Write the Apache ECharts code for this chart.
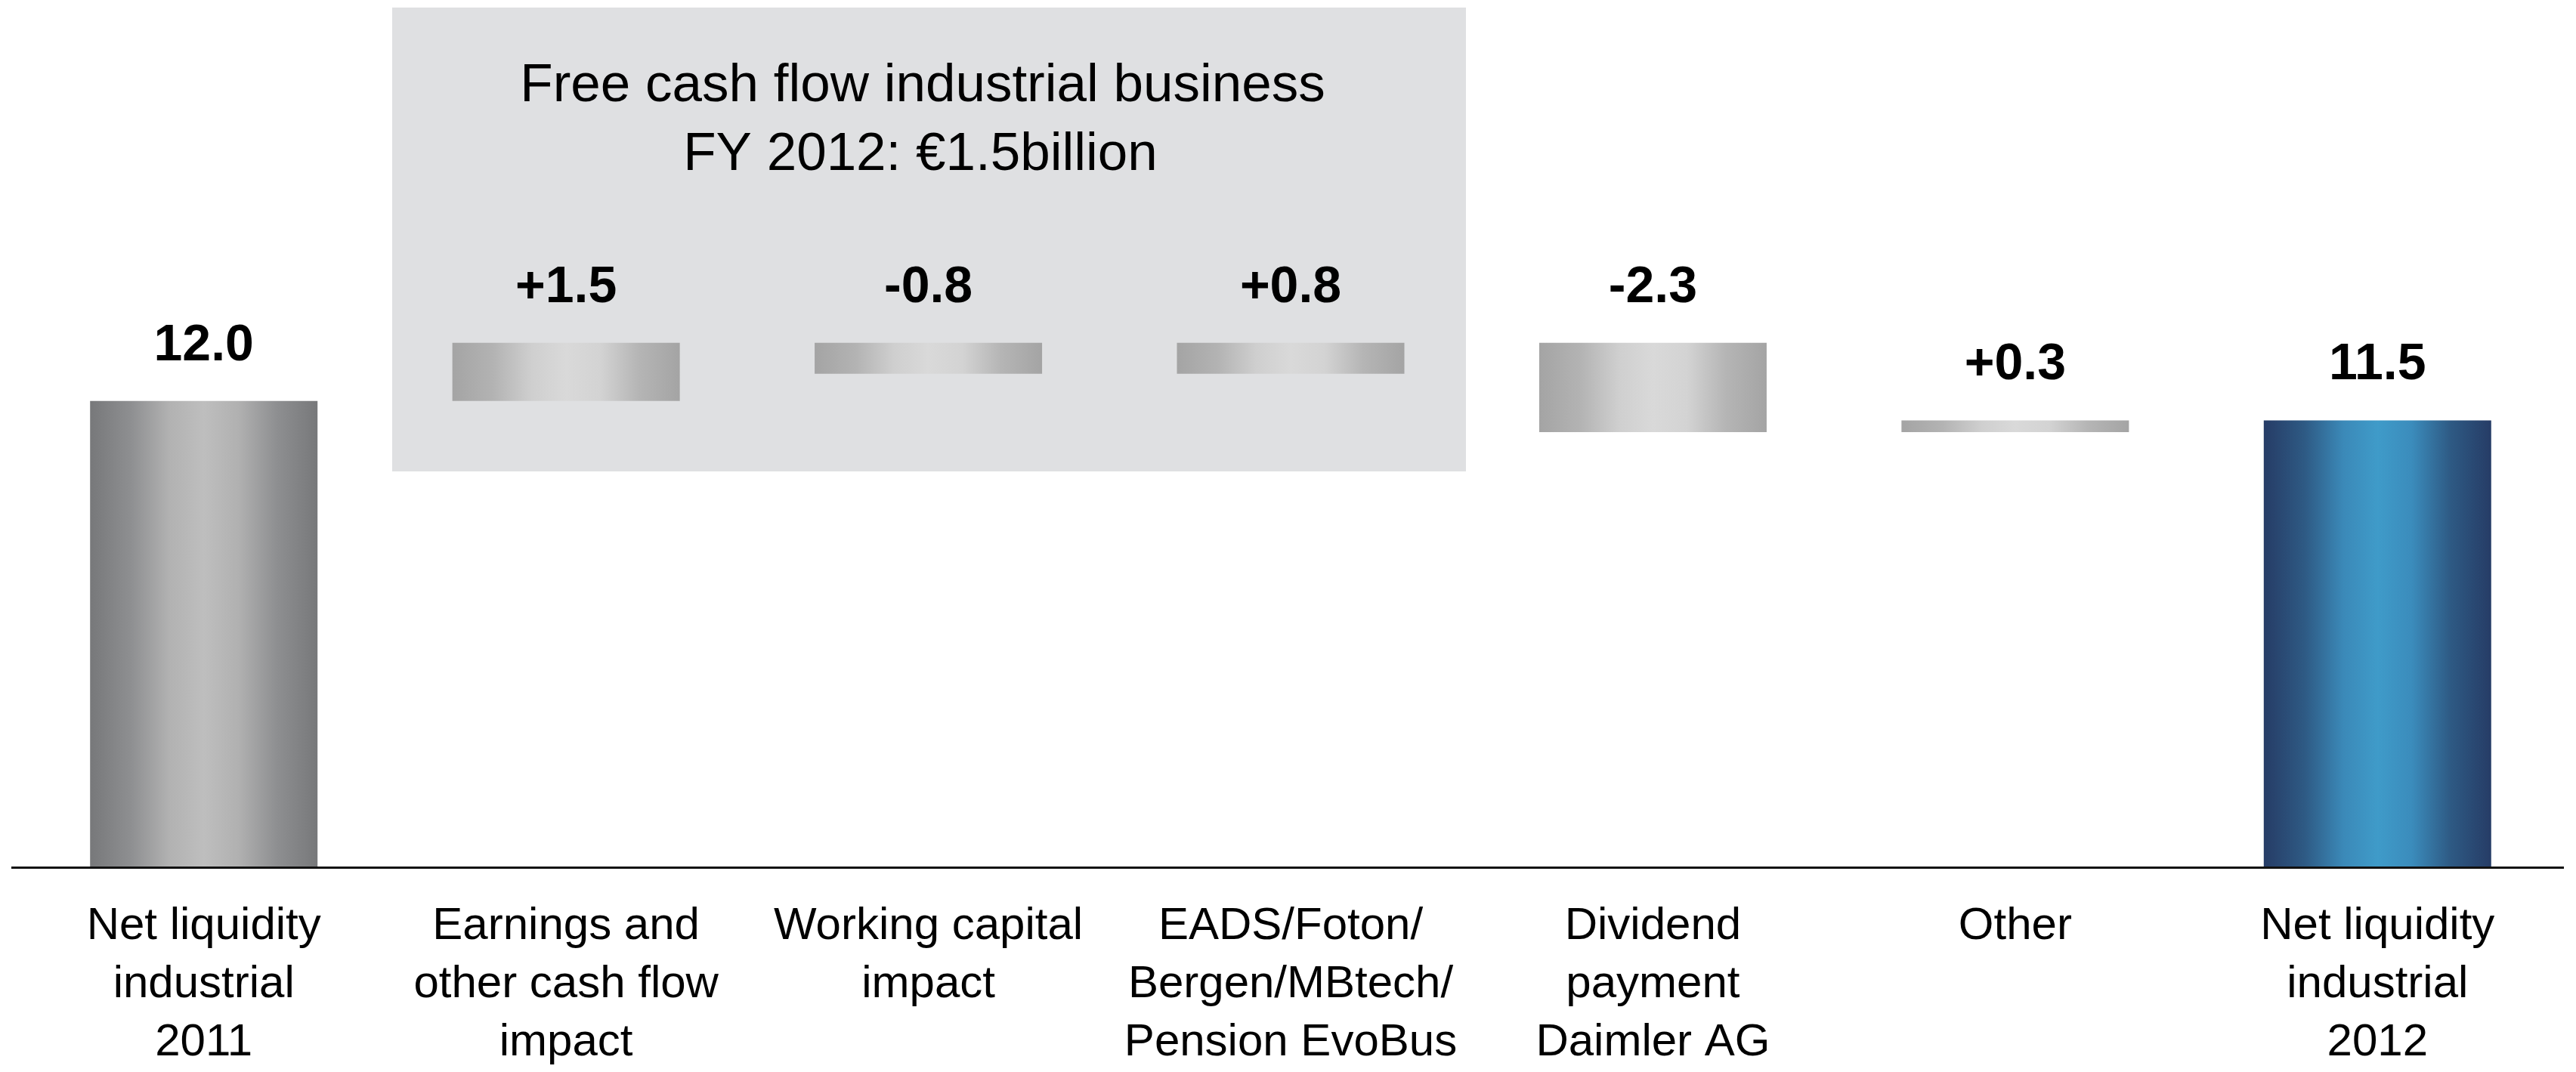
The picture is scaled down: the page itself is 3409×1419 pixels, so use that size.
<!DOCTYPE html>
<html>
<head>
<meta charset="utf-8">
<title>Net liquidity industrial business 2012</title>
<script src="https://cdn.jsdelivr.net/npm/echarts@6/dist/echarts.min.js"></script>
<style>
  html, body { margin: 0; padding: 0; background: #ffffff; }
  #chart { width: 3409px; height: 1419px; }
</style>
</head>
<body>
<div id="chart"></div>
<script>
// Net liquidity bridge, in billions of euros
const categories = [
  'Net liquidity\nindustrial\n2011',
  'Earnings and\nother cash flow\nimpact',
  'Working capital\nimpact',
  'EADS/Foton/\nBergen/MBtech/\nPension EvoBus',
  'Dividend\npayment\nDaimler AG',
  'Other',
  'Net liquidity\nindustrial\n2012'
];
const openingBalance = 12.0;
const changes = [1.5, -0.8, 0.8, -2.3, 0.3];
const closingBalance = 11.5;

const FONT = '"Liberation Sans", Arial, Helvetica, sans-serif';

function barGradient(stops) {
  return new echarts.graphic.LinearGradient(0, 0, 1, 0,
    stops.map(([offset, color]) => ({ offset, color })));
}
const darkGrey = barGradient([[0, '#77787a'], [0.18, '#8e8f91'], [0.35, '#b2b2b2'], [0.5, '#bebebe'],
                              [0.65, '#b1b1b1'], [0.82, '#8e8f91'], [1, '#77787a']]);
const lightGrey = barGradient([[0, '#a4a4a4'], [0.18, '#b3b3b3'], [0.35, '#cfcfcf'], [0.5, '#d9d9d9'],
                               [0.65, '#d3d3d3'], [0.82, '#b5b5b5'], [1, '#a4a4a4']]);
const blue = barGradient([[0, '#263c66'], [0.18, '#2e5a84'], [0.35, '#3b89b8'], [0.5, '#3f9bc9'],
                          [0.65, '#3b8cbc'], [0.82, '#2e5a84'], [1, '#263c66']]);

// Build the invisible offsets and visible segments of the waterfall
const baseData = [0];
const barData = [{ value: openingBalance, labelText: openingBalance.toFixed(1), itemStyle: { color: darkGrey } }];
let running = openingBalance;
changes.forEach(d => {
  const next = running + d;
  baseData.push(Math.min(running, next));
  barData.push({
    value: Math.abs(d),
    labelText: (d > 0 ? '+' : '-') + Math.abs(d).toFixed(1),
    itemStyle: { color: lightGrey }
  });
  running = next;
});
baseData.push(0);
barData.push({ value: closingBalance, labelText: closingBalance.toFixed(1), itemStyle: { color: blue } });

const chart = echarts.init(document.getElementById('chart'), null, { renderer: 'canvas' });

chart.setOption({
  animation: false,
  backgroundColor: '#ffffff',
  grid: { left: 30, right: 23, top: 120, bottom: 262, containLabel: false },
  xAxis: {
    type: 'category',
    data: categories,
    axisLine: { show: false },
    axisTick: { show: false },
    axisLabel: {
      interval: 0,
      margin: 41,
      color: '#000000',
      fontFamily: FONT,
      fontSize: 60,
      lineHeight: 77,
      align: 'center'
    }
  },
  yAxis: {
    type: 'value',
    min: 0,
    max: 20,
    show: false,
    splitLine: { show: false }
  },
  graphic: [
    {
      type: 'rect',
      id: 'fcfBox',
      z: 0,
      shape: { x: 519, y: 10, width: 1421, height: 614 },
      style: { fill: '#dfe0e2' },
      silent: true
    },
    {
      type: 'text',
      id: 'fcfLine1',
      z: 1,
      x: 1221, y: 114,
      style: {
        text: 'Free cash flow industrial business',
        fill: '#000000',
        font: '71px ' + FONT,
        textAlign: 'center',
        textVerticalAlign: 'middle'
      }
    },
    {
      type: 'text',
      id: 'fcfLine2',
      z: 1,
      x: 1218, y: 205,
      style: {
        text: 'FY 2012: €1.5billion',
        fill: '#000000',
        font: '71px ' + FONT,
        textAlign: 'center',
        textVerticalAlign: 'middle'
      }
    }
  ],
  series: [
    {
      name: 'offset',
      type: 'bar',
      stack: 'bridge',
      barWidth: 301,
      silent: true,
      itemStyle: { color: 'transparent' },
      data: baseData
    },
    {
      name: 'amount',
      type: 'bar',
      stack: 'bridge',
      barWidth: 301,
      data: barData,
      label: {
        show: true,
        position: 'top',
        distance: 39,
        color: '#000000',
        fontFamily: FONT,
        fontWeight: 'bold',
        fontSize: 68,
        formatter: p => p.data.labelText
      }
    }
  ]
});

// Baseline drawn across the full width at the zero level of the value axis
const zeroY = chart.convertToPixel({ yAxisIndex: 0 }, 0);
chart.setOption({
  graphic: [{
    type: 'line',
    id: 'baseline',
    z: 10,
    shape: { x1: 15, y1: zeroY + 1.5, x2: 3393, y2: zeroY + 1.5 },
    style: { stroke: '#111111', lineWidth: 3 },
    silent: true
  }]
});
</script>
</body>
</html>
